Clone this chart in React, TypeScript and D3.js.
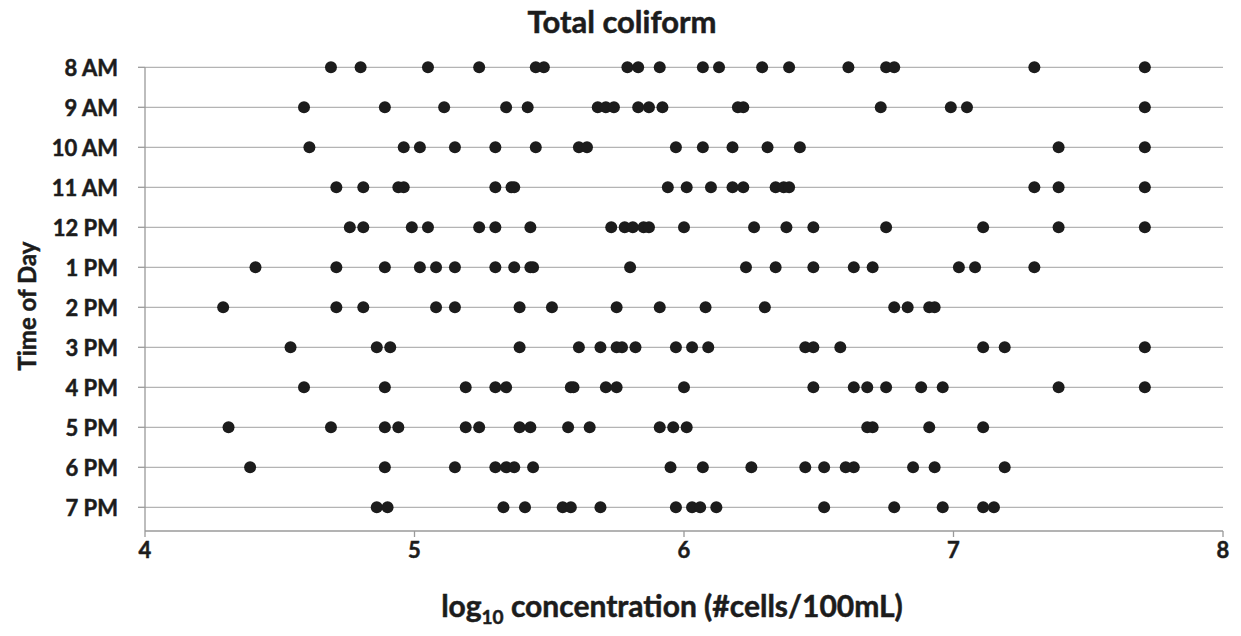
import React from "react";
import * as d3 from "d3";

// Hour-of-day categories, top to bottom
const times = ["8 AM", "9 AM", "10 AM", "11 AM", "12 PM", "1 PM", "2 PM", "3 PM", "4 PM", "5 PM", "6 PM", "7 PM"];

// log10 total coliform concentrations (#cells/100mL) sampled at each hour
const at8am = [4.69, 4.80, 5.05, 5.24, 5.45, 5.48, 5.79, 5.83, 5.91, 6.07, 6.13, 6.29, 6.39, 6.61, 6.75, 6.78, 7.30, 7.71];
const at9am = [4.59, 4.89, 5.11, 5.34, 5.42, 5.68, 5.71, 5.74, 5.83, 5.87, 5.92, 6.20, 6.22, 6.73, 6.99, 7.05, 7.71];
const at10am = [4.61, 4.96, 5.02, 5.15, 5.30, 5.45, 5.61, 5.64, 5.97, 6.07, 6.18, 6.31, 6.43, 7.39, 7.71];
const at11am = [4.71, 4.81, 4.94, 4.96, 5.30, 5.36, 5.37, 5.94, 6.01, 6.10, 6.18, 6.22, 6.34, 6.37, 6.39, 7.30, 7.39, 7.71];
const at12pm = [4.76, 4.81, 4.99, 5.05, 5.24, 5.30, 5.43, 5.73, 5.78, 5.81, 5.85, 5.87, 6.00, 6.26, 6.38, 6.48, 6.75, 7.11, 7.39, 7.71];
const at1pm = [4.41, 4.71, 4.89, 5.02, 5.08, 5.15, 5.30, 5.37, 5.43, 5.44, 5.80, 6.23, 6.34, 6.48, 6.63, 6.70, 7.02, 7.08, 7.30];
const at2pm = [4.29, 4.71, 4.81, 5.08, 5.15, 5.39, 5.51, 5.75, 5.91, 6.08, 6.30, 6.78, 6.83, 6.91, 6.93];
const at3pm = [4.54, 4.86, 4.91, 5.39, 5.61, 5.69, 5.75, 5.77, 5.82, 5.97, 6.03, 6.09, 6.45, 6.48, 6.58, 7.11, 7.19, 7.71];
const at4pm = [4.59, 4.89, 5.19, 5.30, 5.34, 5.58, 5.59, 5.71, 5.75, 6.00, 6.48, 6.63, 6.68, 6.75, 6.88, 6.96, 7.39, 7.71];
const at5pm = [4.31, 4.69, 4.89, 4.94, 5.19, 5.24, 5.39, 5.43, 5.57, 5.65, 5.91, 5.96, 6.01, 6.68, 6.70, 6.91, 7.11];
const at6pm = [4.39, 4.89, 5.15, 5.30, 5.34, 5.37, 5.44, 5.95, 6.07, 6.25, 6.45, 6.52, 6.60, 6.63, 6.85, 6.93, 7.19];
const at7pm = [4.86, 4.90, 5.33, 5.41, 5.55, 5.58, 5.69, 5.97, 6.03, 6.06, 6.12, 6.52, 6.78, 6.96, 7.11, 7.15];

const samplesByHour = [at8am, at9am, at10am, at11am, at12pm, at1pm, at2pm, at3pm, at4pm, at5pm, at6pm, at7pm];

const xTicks = [4, 5, 6, 7, 8];

const W = 1241;
const H = 636;
const FONT = "Lato, 'Open Sans', sans-serif";
const INK = "#1c1c1c";

// slight outline so the bold labels read as heavy as the rest of the figure
const heavy = { stroke: INK, strokeWidth: 0.5, paintOrder: "stroke" as const };

export default function App() {
  const left = 145;
  const right = 1223;
  const rowTop = 67.3;
  const rowBottom = 507.3;
  const axisY = 531;

  const x = d3.scaleLinear().domain([4, 8]).range([left, right]);
  const y = d3.scalePoint<string>().domain(times).range([rowTop, rowBottom]);

  const points = times.flatMap((t, i) => samplesByHour[i].map((v) => ({ t, v })));

  return (
    <svg
      width={W}
      height={H}
      viewBox={`0 0 ${W} ${H}`}
      style={{ position: "absolute", left: 0, top: 0, background: "#fff", fontFamily: FONT }}
    >
      <text x={622} y={21} textAnchor="middle" dominantBaseline="central" fontSize={31} fontWeight={700} fill={INK} {...heavy}>
        Total coliform
      </text>

      {/* horizontal gridlines, one per hour */}
      <g stroke="#b4b4b4" strokeWidth={1.3}>
        {times.map((t) => (
          <line key={t} x1={left} x2={right} y1={y(t)} y2={y(t)} />
        ))}
      </g>

      {/* axes */}
      <g stroke="#9a9a9a" strokeWidth={1.3}>
        <line x1={left} x2={left} y1={rowTop} y2={axisY} />
        <line x1={left} x2={right} y1={axisY} y2={axisY} />
        {times.map((t) => (
          <line key={t} x1={left - 7} x2={left} y1={y(t)} y2={y(t)} />
        ))}
        {xTicks.map((v) => (
          <line key={v} x1={x(v)} x2={x(v)} y1={axisY} y2={axisY + 6} />
        ))}
      </g>

      {/* dots */}
      <g fill={INK}>
        {points.map((p, k) => (
          <circle key={k} cx={x(p.v)} cy={y(p.t)} r={6} />
        ))}
      </g>

      {/* y tick labels */}
      <g fontSize={22} fontWeight={700} fill={INK} textAnchor="end" {...heavy}>
        {times.map((t) => (
          <text key={t} x={118} y={y(t)} dominantBaseline="central">
            {t}
          </text>
        ))}
      </g>

      {/* x tick labels */}
      <g fontSize={22} fontWeight={700} fill={INK} textAnchor="middle" {...heavy}>
        {xTicks.map((v) => (
          <text key={v} x={x(v)} y={549} dominantBaseline="central">
            {v}
          </text>
        ))}
      </g>

      <text x={672} y={617} textAnchor="middle" fontSize={30} fontWeight={700} fill={INK} {...heavy}>
        log<tspan fontSize={19} dy={7}>10</tspan>
        <tspan dy={-7}> concentration (#cells/100mL)</tspan>
      </text>

      <text
        transform="translate(26,306) rotate(-90)"
        textAnchor="middle"
        dominantBaseline="central"
        fontSize={24}
        fontWeight={700}
        fill={INK}
        {...heavy}
      >
        Time of Day
      </text>
    </svg>
  );
}
